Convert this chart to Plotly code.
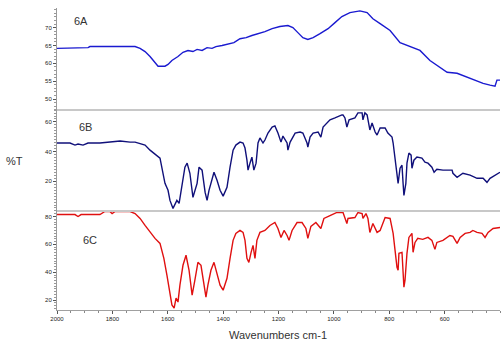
import plotly.graph_objects as go

# Wavenumber (cm-1) and %T values
wn_a = [2000, 1942, 1935, 1888, 1881, 1736, 1718, 1700, 1682, 1664, 1646, 1635, 1610, 1599, 1585,
        1563, 1545, 1527, 1509, 1494, 1476, 1458, 1440, 1426, 1404, 1382, 1361, 1339, 1317, 1296,
        1274, 1249, 1223, 1195, 1166, 1148, 1130, 1112, 1094, 1075, 1050, 1021, 996, 971, 942,
        906, 880, 859, 833, 797, 761, 736, 689, 653, 617, 591, 555, 508, 461, 436, 418, 411, 400]
t_a = [64.2, 64.2, 64.4, 64.4, 64.7, 64.7, 64.7, 64.2, 63.3, 61.9, 60.3, 59.2, 59.2, 59.7, 60.8,
       61.9, 63.1, 63.6, 63.3, 63.9, 63.6, 64.4, 64.2, 64.7, 65.0, 65.3, 65.8, 66.9, 67.2, 67.8,
       68.3, 68.9, 69.7, 70.3, 70.6, 70.0, 68.6, 67.2, 66.7, 67.2, 68.3, 69.7, 71.4, 73.1, 74.2,
       74.7, 74.2, 72.5, 71.1, 69.2, 65.8, 65.0, 63.6, 60.8, 58.9, 57.5, 57.2, 55.8, 54.4, 53.9,
       53.6, 55.3, 55.3]

wn_b = [2000, 1953, 1935, 1924, 1906, 1888, 1845, 1809, 1772, 1736, 1718, 1682, 1664, 1628, 1610,
        1599, 1592, 1581, 1567, 1559, 1549, 1538, 1530, 1520, 1509, 1494, 1487, 1476, 1465, 1458,
        1451, 1440, 1433, 1422, 1411, 1400, 1386, 1375, 1364, 1354, 1339, 1328, 1321, 1314, 1310,
        1303, 1296, 1289, 1281, 1274, 1267, 1256, 1249, 1238, 1223, 1213, 1202, 1191, 1184, 1169,
        1166, 1158, 1140, 1122, 1112, 1097, 1094, 1086, 1075, 1057, 1047, 1039, 1021, 1014, 996,
        989, 971, 967, 960, 953, 945, 924, 913, 898, 895, 888, 880, 870, 862, 851,
        844, 833, 815, 805, 790, 786, 779, 772, 768, 761, 754, 750, 747, 740, 736,
        729, 721, 718, 711, 700, 682, 671, 660, 646, 638, 628, 606, 573, 570, 555,
        534, 508, 483, 461, 447, 436, 418, 408, 400]
t_b = [45.8, 45.8, 44.4, 45.1, 44.4, 45.8, 45.8, 46.4, 47.1, 46.4, 46.4, 44.4, 41.0, 35.6, 18.6,
       13.9, 7.1, 1.7, 7.1, 5.1, 15.9, 29.5, 32.2, 25.4, 9.2, 18.6, 29.5, 27.5, 12.5, 7.1,
       13.9, 22.7, 26.1, 20.7, 13.9, 10.0, 15.9, 29.5, 41.0, 44.4, 46.4, 45.8, 42.4, 34.2, 27.5,
       32.2, 36.3, 27.5, 32.2, 45.8, 49.2, 45.8, 47.8, 52.5, 56.6, 57.3, 52.5, 46.4, 50.5, 45.8,
       41.0, 46.4, 52.5, 53.2, 52.5, 45.8, 43.1, 49.8, 52.5, 53.2, 49.8, 56.6, 60.0, 61.4, 62.7,
       63.4, 64.7, 64.7, 62.7, 56.6, 61.4, 62.7, 66.1, 66.1, 61.4, 66.1, 64.7, 54.6, 59.3, 53.2,
       51.2, 55.9, 55.9, 52.5, 49.8, 45.8, 34.2, 25.4, 18.6, 28.8, 30.8, 18.6, 10.5, 18.6, 32.2,
       39.0, 37.6, 28.8, 34.2, 36.3, 35.6, 32.9, 32.2, 29.5, 26.1, 28.1, 27.5, 27.5, 25.4, 22.7,
       25.4, 24.1, 22.0, 22.0, 19.3, 22.0, 24.1, 24.7, 26.1]

wn_c = [2000, 1953, 1935, 1924, 1913, 1845, 1827, 1809, 1801, 1790, 1736, 1718, 1700, 1682, 1664,
        1646, 1628, 1614, 1603, 1592, 1585, 1577, 1570, 1563, 1556, 1545, 1534, 1523, 1512, 1502,
        1491, 1480, 1469, 1462, 1455, 1444, 1433, 1422, 1411, 1400, 1386, 1375, 1364, 1354, 1339,
        1328, 1321, 1314, 1307, 1299, 1292, 1285, 1278, 1267, 1249, 1231, 1213, 1202, 1191, 1180,
        1169, 1162, 1151, 1133, 1115, 1101, 1094, 1083, 1065, 1047, 1036, 1014, 989, 967, 953,
        949, 924, 913, 898, 895, 884, 877, 870, 859, 844, 833, 815, 797, 786, 779,
        772, 768, 765, 754, 750, 747, 743, 736, 729, 718, 714, 707, 697, 679, 660,
        646, 635, 628, 606, 581, 570, 555, 544, 526, 508, 498, 483, 465, 454, 443,
        425, 408, 400]
t_c = [81.4, 81.4, 81.4, 80.0, 81.4, 81.4, 83.6, 83.6, 82.1, 83.6, 83.6, 82.1, 78.6, 73.6, 68.6,
       64.3, 60.7, 50.0, 37.9, 25.7, 16.5, 14.3, 21.5, 18.6, 30.7, 45.0, 52.2, 41.4, 23.6, 34.3,
       47.1, 45.0, 28.6, 22.1, 30.7, 41.4, 47.1, 37.9, 30.7, 27.1, 35.7, 50.0, 62.9, 67.9, 70.0,
       68.6, 62.9, 50.0, 47.1, 54.3, 59.3, 50.0, 62.9, 68.6, 70.0, 73.6, 75.7, 71.4, 65.0, 70.0,
       66.4, 62.9, 70.0, 75.7, 75.7, 71.4, 64.3, 72.9, 75.7, 71.4, 78.6, 80.7, 82.9, 82.9, 75.0,
       78.6, 79.3, 82.9, 82.1, 78.6, 82.1, 78.6, 68.6, 75.0, 68.6, 70.0, 79.3, 78.6, 67.9, 55.7,
       43.6, 41.4, 53.6, 54.3, 43.6, 29.3, 34.3, 53.6, 65.0, 67.9, 54.3, 61.4, 64.3, 63.6, 65.0,
       62.9, 56.4, 61.4, 62.9, 66.4, 65.7, 60.7, 65.0, 67.9, 68.6, 70.0, 68.6, 67.9, 65.0, 68.6,
       71.4, 72.1, 72.1]

x_ticks = [2000, 1800, 1600, 1400, 1200, 1000, 800, 600]
panel_labels = ["6A", "6B", "6C"]

fig = go.Figure()
fig.add_trace(go.Scatter(x=wn_a, y=t_a, mode="lines", line=dict(color="#1a1ad0", width=1.4),
                         xaxis="x", yaxis="y3"))
fig.add_trace(go.Scatter(x=wn_b, y=t_b, mode="lines", line=dict(color="#10107a", width=1.4),
                         xaxis="x", yaxis="y2"))
fig.add_trace(go.Scatter(x=wn_c, y=t_c, mode="lines", line=dict(color="#e01010", width=1.4),
                         xaxis="x", yaxis="y"))

tickfont = dict(family="Liberation Sans, Arial", size=6, color="#222")
common_y = dict(showgrid=False, zeroline=False, showline=True, linecolor="#9a9a9a", linewidth=1,
                ticks="outside", ticklen=3, tickcolor="#555", tickfont=tickfont, automargin=False)

d1, d2 = 0.328, 0.662
fig.update_layout(
    width=501, height=341,
    margin=dict(l=57, r=1, t=8, b=31),
    paper_bgcolor="white", plot_bgcolor="white",
    showlegend=False,
    xaxis=dict(range=[2000, 400], tickvals=x_ticks, showgrid=False, zeroline=False,
               showline=True, linecolor="#a0a0a0", linewidth=1, ticks="outside", ticklen=3,
               tickcolor="#555", tickfont=tickfont, anchor="y", automargin=False,
               minor=dict(dtick=50, ticks="outside", ticklen=2, tickcolor="#888")),
    yaxis=dict(domain=[0, d1], range=[12.9, 84], tickvals=[20, 40, 60, 80], anchor="x",
               minor=dict(dtick=2, ticks="outside", ticklen=2, tickcolor="#999"), **common_y),
    yaxis2=dict(domain=[d1, d2], range=[0, 68], tickvals=[20, 40, 60], anchor="x",
                minor=dict(dtick=2, ticks="outside", ticklen=2, tickcolor="#999"), **common_y),
    yaxis3=dict(domain=[d2, 1], range=[46.9, 75.5], tickvals=[50, 55, 60, 65, 70], anchor="x",
                minor=dict(dtick=1, ticks="outside", ticklen=2, tickcolor="#999"), **common_y),
    shapes=[
        dict(type="line", xref="paper", yref="paper", x0=0, x1=1, y0=d1, y1=d1,
             line=dict(color="#c8c8c8", width=2)),
        dict(type="line", xref="paper", yref="paper", x0=0, x1=1, y0=d2, y1=d2,
             line=dict(color="#c8c8c8", width=2)),
    ],
)

lab_font = dict(family="Liberation Sans, Arial", size=11, color="#333")
for txt, xp, yp in [(panel_labels[0], 81, 21), (panel_labels[1], 85, 127), (panel_labels[2], 90, 240)]:
    fig.add_annotation(text=txt, xref="paper", yref="paper",
                       x=(xp - 57) / 443, y=1 - (yp - 8) / 302,
                       showarrow=False, font=lab_font, xanchor="center", yanchor="middle")
fig.add_annotation(text="%T", xref="paper", yref="paper", x=(14 - 57) / 443, y=1 - (161 - 8) / 302,
                   showarrow=False, font=lab_font, xanchor="center", yanchor="middle")
fig.add_annotation(text="Wavenumbers cm-1", xref="paper", yref="paper",
                   x=(278 - 57) / 443, y=1 - (335 - 8) / 302,
                   showarrow=False, font=lab_font, xanchor="center", yanchor="middle")

page_js = ("document.documentElement.style.margin='0';document.documentElement.style.overflow='hidden';"
           "document.body.style.margin='0';document.body.style.padding='0';"
           "document.body.style.overflow='hidden';")
fig.write_html("out.html", post_script=page_js, config={"displayModeBar": False})
